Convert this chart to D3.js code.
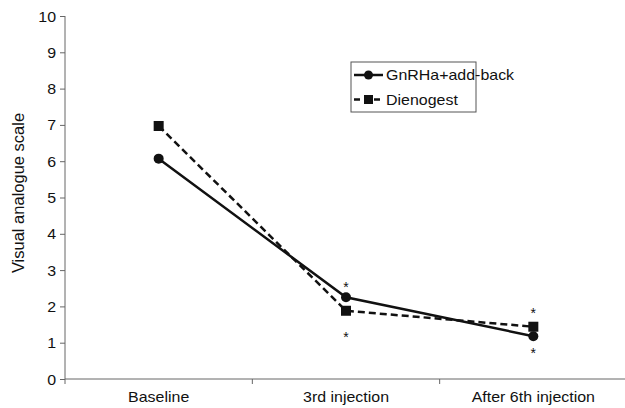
<!DOCTYPE html>
<html>
<head>
<meta charset="utf-8">
<script src="https://d3js.org/d3.v7.min.js"></script>
<style>
  body { margin: 0; background: #fff; }
  text { font-family: "Liberation Sans", Arial, sans-serif; fill: #111; }
</style>
</head>
<body>
<script>
// data
const categories = ["Baseline", "3rd injection", "After 6th injection"];
const gnrhaValues = [6.07, 2.25, 1.18];
const dienogestValues = [6.97, 1.88, 1.44];
const yTicks = [0, 1, 2, 3, 4, 5, 6, 7, 8, 9, 10];
const seriesNames = ["GnRHa+add-back", "Dienogest"];
// asterisk positions (category index, value where star sits)
const starCats = [1, 1, 2, 2];
const starVals = [2.55, 1.18, 1.84, 0.75];

const w = 625, h = 408;
const padL = 65, padR = 627, padT = 16, padB = 379;
const sx = 1.14; // horizontal text stretch seen in the picture

const svg = d3.select("body").append("svg").attr("width", w).attr("height", h);

const xScale = d3.scaleBand().domain(categories).range([padL, padR]);
const yScale = d3.scaleLinear().domain([0, 10]).range([padB, padT]);

// y axis
const yAxis = d3.axisLeft(yScale).tickValues(yTicks).tickSize(5).tickPadding(6).tickFormat(d3.format("d"));
const gy = svg.append("g").attr("transform", "translate(" + padL + ",0)").call(yAxis);
gy.select(".domain").attr("stroke", "#666").attr("d", "M0," + (padB + 5) + "V" + padT);
gy.selectAll(".tick line").attr("stroke", "#666");
gy.selectAll(".tick text").attr("font-size", 14).attr("fill", "#111")
  .attr("transform", "scale(" + sx + ",1)").attr("x", -9 / sx).attr("dy", "0.36em");

// x axis, ticks between categories
const gx = svg.append("g").attr("transform", "translate(0," + padB + ")");
gx.append("line").attr("x1", padL).attr("x2", w).attr("stroke", "#666");
gx.selectAll("line.sep").data(categories.slice(1)).enter().append("line")
  .attr("class", "sep")
  .attr("x1", d => xScale(d)).attr("x2", d => xScale(d))
  .attr("y1", 0).attr("y2", 5).attr("stroke", "#666");
gx.selectAll("text.cat").data(categories).enter().append("text")
  .attr("class", "cat")
  .attr("transform", d => "translate(" + (xScale(d) + xScale.bandwidth() / 2) + ",23) scale(" + sx + ",1)")
  .attr("text-anchor", "middle").attr("font-size", 14)
  .text(d => d);

// y label
svg.append("text")
  .attr("transform", "translate(24,193) rotate(-90)")
  .attr("text-anchor", "middle").attr("font-size", 16.5)
  .text("Visual analogue scale");

const cx = (d, i) => xScale(categories[i]) + xScale.bandwidth() / 2;
const line = d3.line().x(cx).y(d => yScale(d));

// dienogest dashed
svg.append("path").datum(dienogestValues).attr("d", line)
  .attr("fill", "none").attr("stroke", "#111").attr("stroke-width", 2.5)
  .attr("stroke-dasharray", "7,4");
svg.selectAll("rect.dien").data(dienogestValues).enter().append("rect")
  .attr("class", "dien")
  .attr("x", (d, i) => cx(d, i) - 5).attr("y", d => yScale(d) - 5)
  .attr("width", 10).attr("height", 10).attr("fill", "#111");

// gnrha solid
svg.append("path").datum(gnrhaValues).attr("d", line)
  .attr("fill", "none").attr("stroke", "#111").attr("stroke-width", 2.5);
svg.selectAll("circle.gn").data(gnrhaValues).enter().append("circle")
  .attr("class", "gn")
  .attr("cx", (d, i) => cx(d, i)).attr("cy", d => yScale(d))
  .attr("r", 5).attr("fill", "#111");

// asterisks
svg.selectAll("text.star").data(starVals).enter().append("text")
  .attr("class", "star")
  .attr("x", (d, i) => xScale(categories[starCats[i]]) + xScale.bandwidth() / 2)
  .attr("y", d => yScale(d) + 6)
  .attr("text-anchor", "middle").attr("font-size", 14).attr("fill", "#333")
  .text("*");

// legend
const lg = svg.append("g").attr("transform", "translate(351,62)");
lg.append("rect").attr("width", 125).attr("height", 50)
  .attr("fill", "#fff").attr("stroke", "#555").attr("stroke-width", 1);
seriesNames.forEach((name, i) => {
  const yy = 13 + i * 24.5;
  lg.append("line").attr("x1", 3).attr("x2", 32).attr("y1", yy).attr("y2", yy)
    .attr("stroke", "#111").attr("stroke-width", 2.5)
    .attr("stroke-dasharray", i === 1 ? "6,4" : null);
  if (i === 0) {
    lg.append("circle").attr("cx", 17.5).attr("cy", yy).attr("r", 4.5).attr("fill", "#111");
  } else {
    lg.append("rect").attr("x", 13).attr("y", yy - 4.5).attr("width", 9).attr("height", 9).attr("fill", "#111");
  }
  lg.append("text").attr("transform", "translate(35," + (yy + 5) + ") scale(" + sx + ",1)")
    .attr("font-size", 14).text(name);
});
</script>
</body>
</html>
